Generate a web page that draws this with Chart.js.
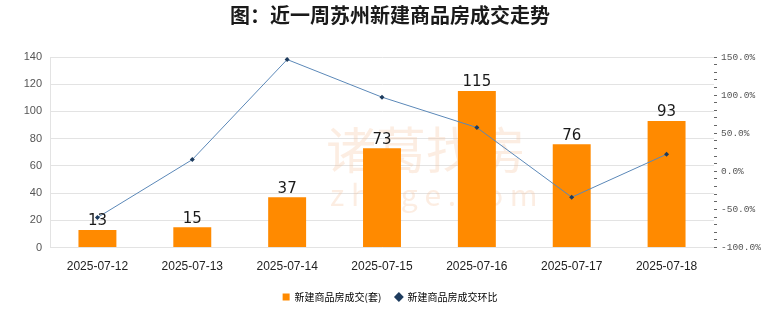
<!DOCTYPE html>
<html>
<head>
<meta charset="utf-8">
<script src="https://cdn.jsdelivr.net/npm/chart.js@4"></script>
<style>
  html, body { margin: 0; padding: 0; background: #fff; }
  #wrap { width: 780px; height: 328px; }
</style>
</head>
<body>
<div id="wrap"><canvas></canvas></div>
<script>
// chart data
const dates = ['2025-07-12', '2025-07-13', '2025-07-14', '2025-07-15', '2025-07-16', '2025-07-17', '2025-07-18'];
const deals = [13, 15, 37, 73, 115, 76, 93];            // 新建商品房成交(套)
const ratio = [-60.6, 15.4, 146.7, 97.3, 57.5, -33.9, 22.4]; // 环比, %
const rightLabelsAt = [150, 100, 50, 0, -50, -100];

const cjk = '"Noto Sans CJK SC", "Noto Sans", sans-serif';

// faint watermark behind the bars
const watermark = {
    id: 'watermark',
    beforeDatasetsDraw(chart) {
        const ctx = chart.ctx;
        ctx.save();
        ctx.fillStyle = 'rgba(244, 190, 150, 0.28)';
        ctx.textAlign = 'left';
        ctx.textBaseline = 'middle';
        ctx.font = '50px ' + cjk;
        ctx.fillText('诸葛找房', 326, 150);
        ctx.font = '30px ' + cjk;
        ctx.fillText('z h u g e . c o m', 330, 195);
        ctx.restore();
    }
};

// value labels above the bars
const barLabels = {
    id: 'barLabels',
    afterDatasetsDraw(chart) {
        const ctx = chart.ctx;
        const meta = chart.getDatasetMeta(0);
        ctx.save();
        ctx.fillStyle = '#1a1a1a';
        ctx.font = '15px "DejaVu Sans", sans-serif';
        ctx.textAlign = 'center';
        ctx.textBaseline = 'bottom';
        meta.data.forEach((bar, i) => {
            ctx.fillText(String(deals[i]), bar.x, bar.y - 1);
        });
        ctx.restore();
    }
};

const ctx = document.querySelector('canvas').getContext('2d');
const chart = new Chart(ctx, {
    data: {
        labels: dates,
        datasets: [{
            type: 'bar',
            label: '新建商品房成交(套)',
            data: deals,
            backgroundColor: '#FF8A00',
            barPercentage: 0.4,
            categoryPercentage: 1,
            yAxisID: 'y',
            order: 2
        }, {
            type: 'line',
            label: '新建商品房成交环比',
            data: ratio,
            borderColor: '#5B88B8',
            borderWidth: 1,
            pointStyle: 'rectRot',
            pointRadius: 2.5,
            pointBackgroundColor: '#1E3C5E',
            pointBorderColor: '#1E3C5E',
            pointBorderWidth: 0,
            tension: 0,
            yAxisID: 'y1',
            order: 1
        }]
    },
    options: {
        responsive: true,
        maintainAspectRatio: false,
        animation: false,
        layout: { padding: { left: 0, right: 0, top: 0, bottom: 16 } },
        plugins: {
            title: {
                display: true,
                text: '图：近一周苏州新建商品房成交走势',
                color: '#1a1a1a',
                font: { family: cjk, size: 20, weight: 'bold' },
                padding: { top: 3, bottom: 30 }
            },
            legend: {
                position: 'bottom',
                labels: {
                    usePointStyle: true,
                    boxWidth: 7,
                    boxHeight: 7,
                    padding: 14,
                    color: '#333',
                    font: { family: cjk, size: 10 },
                    generateLabels(chart) {
                        return [{
                            text: '新建商品房成交(套)',
                            fillStyle: '#FF8A00',
                            strokeStyle: '#FF8A00',
                            lineWidth: 0,
                            pointStyle: 'rect',
                            datasetIndex: 0
                        }, {
                            text: '新建商品房成交环比',
                            fillStyle: '#1E3C5E',
                            strokeStyle: '#1E3C5E',
                            lineWidth: 0,
                            pointStyle: 'rectRot',
                            datasetIndex: 1
                        }];
                    }
                }
            },
            tooltip: { enabled: false }
        },
        scales: {
            x: {
                grid: { display: false },
                border: { display: false },
                ticks: {
                    color: '#222',
                    font: { family: '"Liberation Sans", sans-serif', size: 12 },
                    padding: 4,
                    maxRotation: 0
                }
            },
            y: {
                position: 'left',
                min: 0,
                max: 140,
                afterFit: s => { s.width = 50; },
                grid: { color: '#E3E3E3', tickLength: 0 },
                border: { display: true, color: '#E3E3E3' },
                ticks: {
                    stepSize: 20,
                    color: '#555',
                    padding: 8,
                    font: { family: '"Liberation Sans", sans-serif', size: 11 }
                }
            },
            y1: {
                position: 'right',
                min: -100,
                max: 150,
                afterFit: s => { s.width = 66; },
                grid: { drawOnChartArea: false, tickLength: 3, color: '#666' },
                border: { display: false },
                ticks: {
                    stepSize: 10,
                    autoSkip: false,
                    color: '#555',
                    padding: 4,
                    font: { family: '"Liberation Mono", monospace', size: 9.5 },
                    callback: v => rightLabelsAt.includes(v) ? v.toFixed(1) + '%' : ''
                }
            }
        }
    },
    plugins: [watermark, barLabels]
});
</script>
</body>
</html>
